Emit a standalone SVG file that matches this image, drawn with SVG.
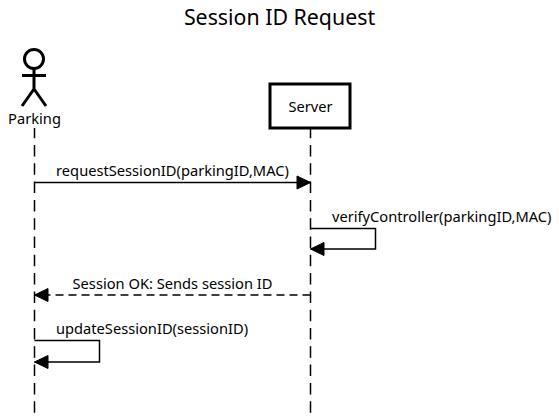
<svg xmlns="http://www.w3.org/2000/svg" width="559" height="419" viewBox="0 0 559 419">
<style>
text{font-family:"Noto Sans",sans-serif;font-size:14.67px;fill:#000}
.life{stroke:#000;stroke-width:1.5;stroke-dasharray:11.5 6.8;stroke-dashoffset:1.3;fill:none}
.msg{stroke:#000;stroke-width:1.5;fill:none}
</style>
<defs>
<marker id="ah" markerUnits="userSpaceOnUse" markerWidth="18" markerHeight="18" refX="14.500" refY="8" orient="auto"><path d="M1 1.500L14.500 8L1 14.500Z" fill="#000" stroke="#000" stroke-width="1"/></marker>
</defs>
<rect width="559" height="419" fill="#fff"/>
<text x="279.500" y="25" text-anchor="middle" style="font-size:21.33px">Session ID Request</text>
<g id="connectors">
<path class="life" d="M34.500 128V419"/>
<path class="life" d="M310.500 128V419"/>
<path class="msg" d="M34.500 182.500H310.500" marker-end="url(#ah)"/>
<path class="msg" d="M310.500 228.500H375.500V249H310.500" marker-end="url(#ah)"/>
<path class="msg" stroke-dasharray="8 5" d="M310.500 295H34.500" marker-end="url(#ah)"/>
<path class="msg" d="M34.500 340.500H99.500V362H34.500" marker-end="url(#ah)"/>
<text x="172.500" y="176" text-anchor="middle">requestSessionID(parkingID,MAC)</text>
<text x="332" y="222">verifyController(parkingID,MAC)</text>
<text x="172.500" y="289" text-anchor="middle">Session OK: Sends session ID</text>
<text x="56" y="334">updateSessionID(sessionID)</text>
</g>
<g id="parking" fill="none" stroke="#000" stroke-width="3">
<circle cx="34" cy="59" r="9.500"/>
<path d="M34 68.500V89M22 75.500H46M22 106L34 89L46 106"/>
<text x="34.500" y="124" text-anchor="middle" stroke="none">Parking</text>
</g>
<g id="server">
<rect x="270" y="84" width="80" height="44" fill="#fff" stroke="#000" stroke-width="3"/>
<text x="310.500" y="112" text-anchor="middle">Server</text>
</g>
</svg>
